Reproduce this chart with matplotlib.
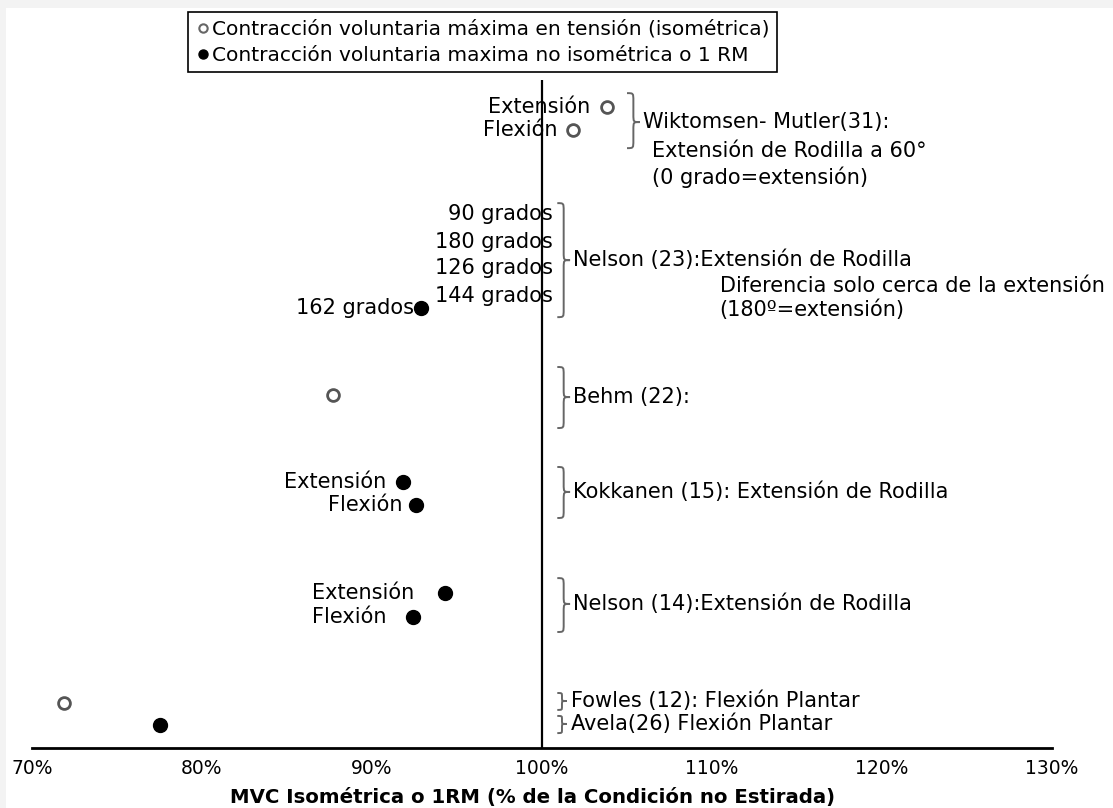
"""Stretch effect on MVC / 1RM, per study (forest-style dot chart)."""

import matplotlib
matplotlib.use("Agg")
import matplotlib.pyplot as plt
from matplotlib.lines import Line2D
from matplotlib.patches import PathPatch, Rectangle
from matplotlib.path import Path

plt.rcParams["font.family"] = ["DejaVu Sans"]

# measurements: % of the unstretched condition, row position on the chart
point_values = [103.8, 101.8, 92.9, 87.7, 91.8, 92.6, 94.3, 92.4, 71.9, 77.5]
point_rows = [28.8, 27.75, 19.75, 15.85, 11.95, 10.9, 6.95, 5.9, 2.0, 1.05]
point_isometric = [True, True, False, True, False, False, False, False, True, False]
point_labels = ["Extensión", "Flexión", "162 grados", "", "Extensión", "Flexión",
                "Extensión", "Flexión", "", ""]
label_gap = [16, 15, 7, 0, 16, 14, 31, 26, 0, 0]  # px, marker -> label

# Nelson (23) angles that sit on the 100% line
angle_labels = ["90 grados", "180 grados", "126 grados", "144 grados"]
angle_rows = [24.0, 22.72, 21.55, 20.3]

# study brackets on the right
studies = ["Wiktomsen- Mutler(31):", "Nelson (23):Extensión de Rodilla", "Behm (22):",
           "Kokkanen (15): Extensión de Rodilla", "Nelson (14):Extensión de Rodilla",
           "Fowles (12): Flexión Plantar", "Avela(26) Flexión Plantar"]
brace_top = [29.41, 24.47, 17.11, 12.62, 7.63, 2.47, 1.44]
brace_bot = [26.94, 19.35, 14.37, 10.33, 5.21, 1.71, 0.67]
brace_mid = [28.11, 21.91, 15.76, 11.50, 6.47, 2.11, 1.08]
brace_left = [105.0, 100.9, 100.9, 100.9, 100.9, 100.9, 100.9]

notes = ["Extensión de Rodilla a 60°", "(0 grado=extensión)",
         "Diferencia solo cerca de la extensión", "(180º=extensión)"]
notes_x = [106.45, 106.45, 110.45, 110.45]
notes_y = [26.83, 25.64, 20.75, 19.67]

xticks = [70, 80, 90, 100, 110, 120, 130]
legend_labels = ["Contracción voluntaria máxima en tensión (isométrica)",
                 "Contracción voluntaria maxima no isométrica o 1 RM"]

W, H = 1113, 808
FS = 15


def brace(ax, x0, top, bot, mid, w=0.75, r=0.35, small=False):
    """Curly '}' bracket from top to bot, pointing right at mid."""
    if small:
        w, r = 0.55, 0.15
    xm, xt = x0 + w / 2, x0 + w
    verts = [(x0, top), (xm, top), (xm, top), (xm, top - r),
             (xm, mid + r),
             (xm, mid), (xm, mid), (xt, mid),
             (xm, mid), (xm, mid), (xm, mid - r),
             (xm, bot + r),
             (xm, bot), (xm, bot), (x0, bot)]
    codes = [Path.MOVETO, Path.CURVE4, Path.CURVE4, Path.CURVE4,
             Path.LINETO,
             Path.CURVE4, Path.CURVE4, Path.CURVE4,
             Path.CURVE4, Path.CURVE4, Path.CURVE4,
             Path.LINETO,
             Path.CURVE4, Path.CURVE4, Path.CURVE4]
    ax.add_patch(PathPatch(Path(verts, codes), fill=False, ec="#666666", lw=1.4,
                           clip_on=False))


fig = plt.figure(figsize=(W / 100, H / 100), dpi=100, facecolor="#f3f3f3")
fig.patches.append(Rectangle((6 / W, 0), 1, 1 - 8 / H, transform=fig.transFigure,
                             fc="white", ec="none", zorder=-10))
ax = fig.add_axes([32 / W, 1 - 748 / H, (1052 - 32) / W, (748 - 80) / H])
ax.set_facecolor("none")
ax.set_xlim(70, 130)
ax.set_ylim(0, 30)

ax.axvline(100, color="black", lw=1.6, zorder=1)

for v, y, iso, lab, gap in zip(point_values, point_rows, point_isometric,
                               point_labels, label_gap):
    if iso:
        ax.plot(v, y, "o", ms=8.5, mfc="white", mec="#555555", mew=2, zorder=3)
    else:
        ax.plot(v, y, "o", ms=10, mfc="black", mec="black", zorder=3)
    if lab:
        ax.annotate(lab, (v, y), xytext=(-gap * 0.72, 0), textcoords="offset points",
                    ha="right", va="center", fontsize=FS)

for lab, y in zip(angle_labels, angle_rows):
    ax.annotate(lab, (100, y), xytext=(11 * 0.72, 0), textcoords="offset points",
                ha="right", va="center", fontsize=FS)

for name, x0, top, bot, mid in zip(studies, brace_left, brace_top, brace_bot, brace_mid):
    small = top - bot < 1
    brace(ax, x0, top, bot, mid, small=small)
    ax.text(x0 + (0.75 if not small else 0.6) + 0.2, mid, name, ha="left", va="center",
            fontsize=FS, clip_on=False)

for txt, x, y in zip(notes, notes_x, notes_y):
    ax.text(x, y, txt, ha="left", va="center", fontsize=FS, clip_on=False)

for s in ["top", "right", "left"]:
    ax.spines[s].set_visible(False)
ax.spines["bottom"].set_linewidth(2)
ax.set_yticks([])
ax.set_xticks(xticks)
ax.set_xticklabels([f"{t}%" for t in xticks], fontsize=13.5)
ax.tick_params(axis="x", length=0, pad=8)

fig.text(533 / W, 1 - 797 / H, "MVC Isométrica o 1RM (% de la Condición no Estirada)",
         ha="center", va="center", fontsize=14.2, fontweight="bold")

handles = [Line2D([], [], ls="none", marker="o", ms=6, mfc="white", mec="#666666", mew=1.5),
           Line2D([], [], ls="none", marker="o", ms=6.5, mfc="black", mec="black")]
leg = fig.legend(handles, legend_labels, loc="upper left",
                 bbox_to_anchor=(188 / W, 1 - 12 / H), bbox_transform=fig.transFigure,
                 fontsize=14.5, frameon=True, fancybox=False, edgecolor="black",
                 framealpha=1, handlelength=0.7, handletextpad=0.1, borderpad=0.38,
                 labelspacing=0.35, borderaxespad=0)
leg.get_frame().set_linewidth(1.2)

fig.savefig("out.png", dpi=100, facecolor=fig.get_facecolor())
